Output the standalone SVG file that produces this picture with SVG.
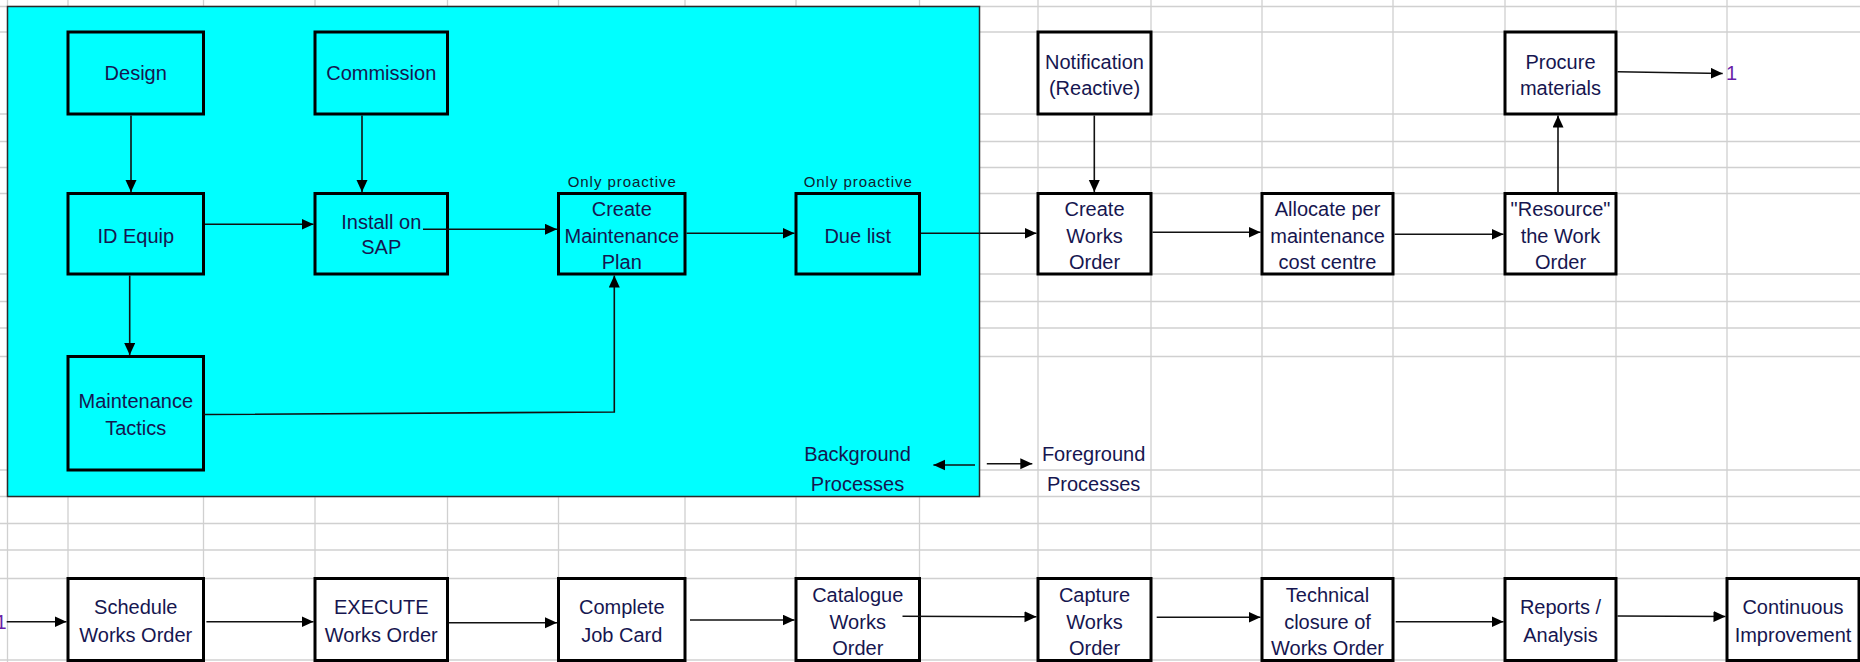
<svg xmlns="http://www.w3.org/2000/svg" width="1860" height="662" viewBox="0 0 1860 662">
<style>
.grid line{stroke:#d0d0d0;stroke-width:1.3}
.box{stroke:#000;stroke-width:3}
.cy{fill:#00ffff}
.wh{fill:#fff}
text{font-family:"Liberation Sans",Arial,sans-serif;font-size:20px;fill:#161650;text-anchor:middle}
text.small{font-size:15px;fill:#102030}
text.num{fill:#6a1fa8;text-anchor:start}
.conn line,.conn polyline{stroke:#111;stroke-width:1.6;fill:none;marker-end:url(#ah)}
</style>
<defs>
<marker id="ah" markerUnits="userSpaceOnUse" markerWidth="13" markerHeight="12" refX="12" refY="5.5" orient="auto">
<path d="M0,0 L12,5.5 L0,11 z" fill="#000"/>
</marker>
</defs>
<rect x="0" y="0" width="1860" height="662" fill="#fff"/>
<g class="grid">
<line x1="7.5" y1="0" x2="7.5" y2="662"/>
<line x1="68" y1="0" x2="68" y2="662"/>
<line x1="203.5" y1="0" x2="203.5" y2="662"/>
<line x1="315" y1="0" x2="315" y2="662"/>
<line x1="447.5" y1="0" x2="447.5" y2="662"/>
<line x1="558.5" y1="0" x2="558.5" y2="662"/>
<line x1="685" y1="0" x2="685" y2="662"/>
<line x1="796" y1="0" x2="796" y2="662"/>
<line x1="919.5" y1="0" x2="919.5" y2="662"/>
<line x1="1038" y1="0" x2="1038" y2="662"/>
<line x1="1151" y1="0" x2="1151" y2="662"/>
<line x1="1262" y1="0" x2="1262" y2="662"/>
<line x1="1393" y1="0" x2="1393" y2="662"/>
<line x1="1505" y1="0" x2="1505" y2="662"/>
<line x1="1616" y1="0" x2="1616" y2="662"/>
<line x1="1727" y1="0" x2="1727" y2="662"/>
<line x1="0" y1="6.5" x2="1860" y2="6.5"/>
<line x1="0" y1="32" x2="1860" y2="32"/>
<line x1="0" y1="114" x2="1860" y2="114"/>
<line x1="0" y1="141.5" x2="1860" y2="141.5"/>
<line x1="0" y1="167.5" x2="1860" y2="167.5"/>
<line x1="0" y1="193.5" x2="1860" y2="193.5"/>
<line x1="0" y1="274" x2="1860" y2="274"/>
<line x1="0" y1="301.5" x2="1860" y2="301.5"/>
<line x1="0" y1="328" x2="1860" y2="328"/>
<line x1="0" y1="356.5" x2="1860" y2="356.5"/>
<line x1="0" y1="470" x2="1860" y2="470"/>
<line x1="0" y1="496.5" x2="1860" y2="496.5"/>
<line x1="0" y1="523.5" x2="1860" y2="523.5"/>
<line x1="0" y1="550" x2="1860" y2="550"/>
<line x1="0" y1="578.5" x2="1860" y2="578.5"/>
<line x1="0" y1="660" x2="1860" y2="660"/>
</g>
<rect id="background-area" x="7.5" y="6.5" width="972" height="490" fill="#00ffff" stroke="#2a2a2a" stroke-width="1.5"/>

<g id="design"><rect class="box cy" x="68" y="32" width="135.5" height="82"/><text x="135.75" y="80">Design</text></g>
<g id="commission"><rect class="box cy" x="315" y="32" width="132.5" height="82"/><text x="381.25" y="80">Commission</text></g>
<g id="notification"><rect class="box wh" x="1038" y="32" width="113" height="82"/><text x="1094.5" y="68.7">Notification</text><text x="1094.5" y="95.3">(Reactive)</text></g>
<g id="procure"><rect class="box wh" x="1505" y="32" width="111" height="82"/><text x="1560.5" y="68.7">Procure</text><text x="1560.5" y="95.3">materials</text></g>

<g id="id-equip"><rect class="box cy" x="68" y="193.5" width="135.5" height="80.5"/><text x="135.75" y="242.7">ID Equip</text></g>
<g id="install-sap"><rect class="box cy" x="315" y="193.5" width="132.5" height="80.5"/><text x="381.25" y="228.5">Install on</text><text x="381.25" y="254">SAP</text></g>
<g id="create-plan"><rect class="box cy" x="558.5" y="193.5" width="126.5" height="80.5"/><text class="small" x="621.75" y="187" textLength="108" lengthAdjust="spacing">Only proactive</text><text x="621.75" y="216.3">Create</text><text x="621.75" y="242.7">Maintenance</text><text x="621.75" y="269.3">Plan</text></g>
<g id="due-list"><rect class="box cy" x="796" y="193.5" width="123.5" height="80.5"/><text class="small" x="857.75" y="187" textLength="108" lengthAdjust="spacing">Only proactive</text><text x="857.75" y="242.7">Due list</text></g>
<g id="create-works-order"><rect class="box wh" x="1038" y="193.5" width="113" height="80.5"/><text x="1094.5" y="216.3">Create</text><text x="1094.5" y="242.7">Works</text><text x="1094.5" y="269.3">Order</text></g>
<g id="allocate"><rect class="box wh" x="1262" y="193.5" width="131" height="80.5"/><text x="1327.5" y="216.3">Allocate per</text><text x="1327.5" y="242.7">maintenance</text><text x="1327.5" y="269.3">cost centre</text></g>
<g id="resource"><rect class="box wh" x="1505" y="193.5" width="111" height="80.5"/><text x="1560.5" y="216.3">"Resource"</text><text x="1560.5" y="242.7">the Work</text><text x="1560.5" y="269.3">Order</text></g>

<g id="maintenance-tactics"><rect class="box cy" x="68" y="356.5" width="135.5" height="113.5"/><text x="135.75" y="408">Maintenance</text><text x="135.75" y="434.7">Tactics</text></g>

<g id="background-label"><text x="857.5" y="461">Background</text><text x="857.5" y="491.3">Processes</text></g>
<g id="foreground-label"><text x="1093.6" y="461">Foreground</text><text x="1093.6" y="491.3">Processes</text></g>
<g id="label-1-top"><text class="num" x="1726" y="80">1</text></g>
<g id="label-1-bottom"><text class="num" x="-4.5" y="629">1</text></g>

<g id="schedule"><rect class="box wh" x="68" y="578.5" width="135.5" height="82"/><text x="135.75" y="614.3">Schedule</text><text x="135.75" y="642">Works Order</text></g>
<g id="execute"><rect class="box wh" x="315" y="578.5" width="132.5" height="82"/><text x="381.25" y="614.3">EXECUTE</text><text x="381.25" y="642">Works Order</text></g>
<g id="complete-job-card"><rect class="box wh" x="558.5" y="578.5" width="126.5" height="82"/><text x="621.75" y="614.3">Complete</text><text x="621.75" y="642">Job Card</text></g>
<g id="catalogue"><rect class="box wh" x="796" y="578.5" width="123.5" height="82"/><text x="857.75" y="601.5">Catalogue</text><text x="857.75" y="628.7">Works</text><text x="857.75" y="655.3">Order</text></g>
<g id="capture"><rect class="box wh" x="1038" y="578.5" width="113" height="82"/><text x="1094.5" y="601.5">Capture</text><text x="1094.5" y="628.7">Works</text><text x="1094.5" y="655.3">Order</text></g>
<g id="technical-closure"><rect class="box wh" x="1262" y="578.5" width="131" height="82"/><text x="1327.5" y="601.5">Technical</text><text x="1327.5" y="628.7">closure of</text><text x="1327.5" y="655.3">Works Order</text></g>
<g id="reports"><rect class="box wh" x="1505" y="578.5" width="111" height="82"/><text x="1560.5" y="614.3">Reports /</text><text x="1560.5" y="642">Analysis</text></g>
<g id="continuous-improvement"><rect class="box wh" x="1727" y="578.5" width="132" height="82"/><text x="1793" y="614.3">Continuous</text><text x="1793" y="642">Improvement</text></g>

<g id="connectors" class="conn">
<line x1="131" y1="115.5" x2="131" y2="192"/>
<line x1="362" y1="115.5" x2="362" y2="192"/>
<line x1="205" y1="224.3" x2="313.5" y2="224.3"/>
<line x1="423" y1="229.3" x2="557" y2="229.3"/>
<line x1="129.7" y1="275.5" x2="129.7" y2="355"/>
<polyline points="203.5,414.5 614.3,412 614.3,275.5"/>
<line x1="686.5" y1="233.3" x2="794.5" y2="233.3"/>
<line x1="921" y1="233.3" x2="1036.5" y2="233.3"/>
<line x1="1094.3" y1="115.5" x2="1094.3" y2="192"/>
<line x1="1152.5" y1="232.3" x2="1260.5" y2="232.3"/>
<line x1="1394.5" y1="234.3" x2="1503.5" y2="234.3"/>
<line x1="1558" y1="192" x2="1558" y2="115.5"/>
<line x1="1617.5" y1="71.7" x2="1722.7" y2="73.5"/>
<line x1="975" y1="465" x2="933.4" y2="465"/>
<line x1="986.8" y1="463.7" x2="1032.3" y2="463.7"/>
<line x1="6.7" y1="621.7" x2="66.5" y2="621.7"/>
<line x1="206.4" y1="621.7" x2="313.5" y2="621.7"/>
<line x1="449" y1="622.7" x2="557" y2="622.7"/>
<line x1="690" y1="620" x2="794.5" y2="620"/>
<line x1="902.5" y1="616.3" x2="1036.5" y2="616.8"/>
<line x1="1156.7" y1="617.3" x2="1260.5" y2="617.3"/>
<line x1="1395.7" y1="621.7" x2="1503.5" y2="621.7"/>
<line x1="1617.5" y1="616" x2="1725.5" y2="616.5"/>
</g>
</svg>
